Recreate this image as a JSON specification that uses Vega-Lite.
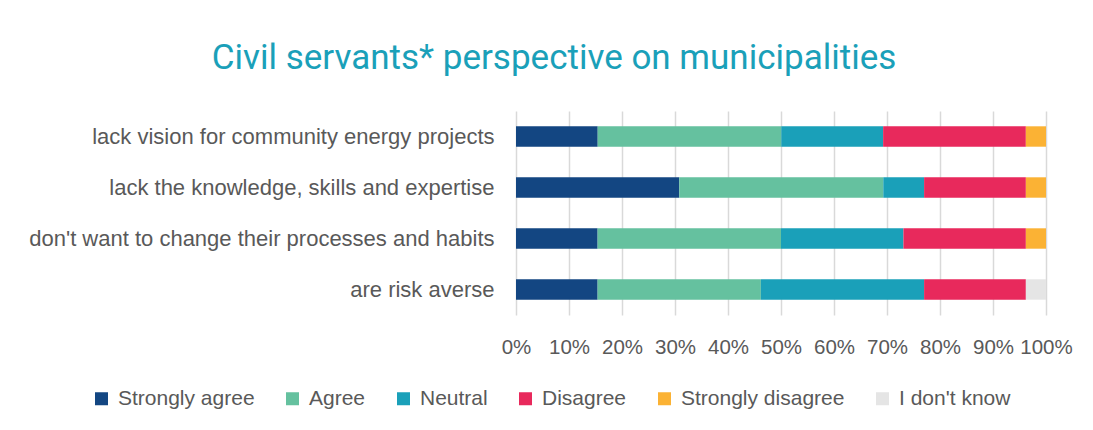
{
  "$schema": "https://vega.github.io/schema/vega-lite/v6.json",
  "autosize": "none",
  "width": 530,
  "height": 204,
  "padding": {"left": 516, "top": 111, "right": 47, "bottom": 115},
  "background": "white",
  "title": {
    "text": "Civil servants* perspective on municipalities",
    "anchor": "middle",
    "dx": -227,
    "offset": 35,
    "fontSize": 35,
    "font": "Roboto",
    "fontWeight": "normal",
    "color": "#1AA0B9"
  },
  "data": {
    "values": [
      {"statement": "lack vision for community energy projects", "response": "Strongly agree", "rank": 1, "pct": 15.4},
      {"statement": "lack vision for community energy projects", "response": "Agree", "rank": 2, "pct": 34.6},
      {"statement": "lack vision for community energy projects", "response": "Neutral", "rank": 3, "pct": 19.2},
      {"statement": "lack vision for community energy projects", "response": "Disagree", "rank": 4, "pct": 26.9},
      {"statement": "lack vision for community energy projects", "response": "Strongly disagree", "rank": 5, "pct": 3.8},
      {"statement": "lack vision for community energy projects", "response": "I don't know", "rank": 6, "pct": 0},
      {"statement": "lack the knowledge, skills and expertise", "response": "Strongly agree", "rank": 1, "pct": 30.8},
      {"statement": "lack the knowledge, skills and expertise", "response": "Agree", "rank": 2, "pct": 38.5},
      {"statement": "lack the knowledge, skills and expertise", "response": "Neutral", "rank": 3, "pct": 7.7},
      {"statement": "lack the knowledge, skills and expertise", "response": "Disagree", "rank": 4, "pct": 19.2},
      {"statement": "lack the knowledge, skills and expertise", "response": "Strongly disagree", "rank": 5, "pct": 3.8},
      {"statement": "lack the knowledge, skills and expertise", "response": "I don't know", "rank": 6, "pct": 0},
      {"statement": "don't want to change their processes and habits", "response": "Strongly agree", "rank": 1, "pct": 15.4},
      {"statement": "don't want to change their processes and habits", "response": "Agree", "rank": 2, "pct": 34.6},
      {"statement": "don't want to change their processes and habits", "response": "Neutral", "rank": 3, "pct": 23.1},
      {"statement": "don't want to change their processes and habits", "response": "Disagree", "rank": 4, "pct": 23.1},
      {"statement": "don't want to change their processes and habits", "response": "Strongly disagree", "rank": 5, "pct": 3.8},
      {"statement": "don't want to change their processes and habits", "response": "I don't know", "rank": 6, "pct": 0},
      {"statement": "are risk averse", "response": "Strongly agree", "rank": 1, "pct": 15.4},
      {"statement": "are risk averse", "response": "Agree", "rank": 2, "pct": 30.8},
      {"statement": "are risk averse", "response": "Neutral", "rank": 3, "pct": 30.8},
      {"statement": "are risk averse", "response": "Disagree", "rank": 4, "pct": 19.2},
      {"statement": "are risk averse", "response": "Strongly disagree", "rank": 5, "pct": 0},
      {"statement": "are risk averse", "response": "I don't know", "rank": 6, "pct": 3.8}
    ]
  },
  "mark": {"type": "bar"},
  "encoding": {
    "y": {
      "field": "statement",
      "type": "nominal",
      "sort": null,
      "title": null,
      "scale": {"paddingInner": 0.6, "paddingOuter": 0.3},
      "axis": {
        "domain": false,
        "ticks": false,
        "labelFont": "Liberation Sans",
        "labelFontSize": 22,
        "labelColor": "#595959",
        "labelPadding": 22,
        "labelLimit": 600
      }
    },
    "x": {
      "field": "pct",
      "type": "quantitative",
      "stack": "normalize",
      "title": null,
      "scale": {"domain": [0, 1], "nice": false},
      "axis": {
        "format": ".0%",
        "values": [0, 0.1, 0.2, 0.3, 0.4, 0.5, 0.6, 0.7, 0.8, 0.9, 1],
        "labelOverlap": false,
        "domain": false,
        "ticks": false,
        "grid": true,
        "gridColor": "#D9D9D9",
        "gridWidth": 1.5,
        "labelFont": "Liberation Sans",
        "labelFontSize": 20.5,
        "labelColor": "#595959",
        "labelPadding": 22,
        "labelFlush": false
      }
    },
    "color": {
      "field": "response",
      "type": "nominal",
      "sort": ["Strongly agree", "Agree", "Neutral", "Disagree", "Strongly disagree", "I don't know"],
      "scale": {
        "domain": ["Strongly agree", "Agree", "Neutral", "Disagree", "Strongly disagree", "I don't know"],
        "range": ["#134682", "#65C19F", "#1AA0B9", "#E8295C", "#FBB234", "#E5E5E5"]
      },
      "legend": {
        "title": null,
        "orient": "none",
        "direction": "horizontal",
        "columns": 6,
        "legendX": -425,
        "legendY": 277,
        "symbolType": "square",
        "symbolSize": 169,
        "symbolStrokeWidth": 0,
        "labelFont": "Liberation Sans",
        "labelFontSize": 21,
        "labelColor": "#595959",
        "labelOffset": 6,
        "columnPadding": 27,
        "labelLimit": 300
      }
    },
    "order": {"field": "rank", "type": "quantitative"}
  },
  "config": {"view": {"stroke": null}}
}
